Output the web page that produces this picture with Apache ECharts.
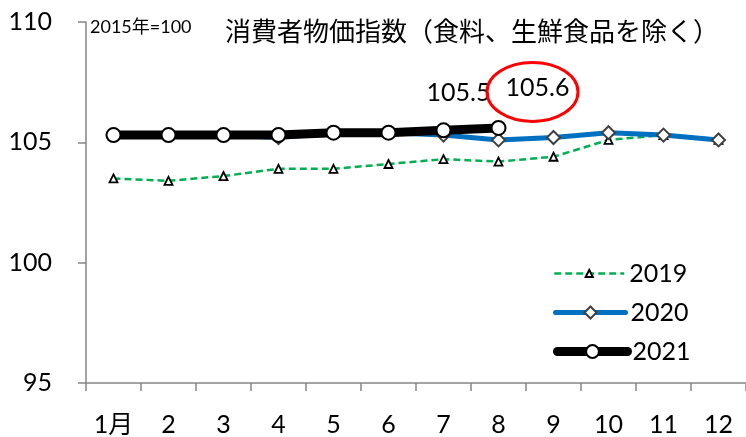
<!DOCTYPE html>
<html>
<head>
<meta charset="utf-8">
<script src="https://cdn.jsdelivr.net/npm/echarts@6/dist/echarts.min.js"></script>
<style>
html,body{margin:0;padding:0;background:#fff;}
#c{width:746px;height:437px;}
</style>
</head>
<body>
<div id="c"></div>
<script>
const categories = ['1月','2','3','4','5','6','7','8','9','10','11','12'];
const s2019 = [103.5,103.4,103.6,103.9,103.9,104.1,104.3,104.2,104.4,105.1,105.3,105.1];
const s2020 = [105.3,105.3,105.3,105.2,105.4,105.4,105.3,105.1,105.2,105.4,105.3,105.1];
const s2021 = [105.3,105.3,105.3,105.3,105.4,105.4,105.5,105.6];
const yTicks = [95,100,105,110];
const seriesNames = ['2019','2020','2021'];
const titleText = '消費者物価指数（食料、生鮮食品を除く）';
const baseText = '2015年=100';

const FONT = "Lato, 'Noto Sans CJK JP', sans-serif";
const chart = echarts.init(document.getElementById('c'), null, {renderer:'canvas'});

const lbl = (ox, oy) => ({show:true, formatter:'{c}', position:'top', offset:[ox, oy], fontSize:25, color:'#000', fontFamily:FONT});
const data2021 = s2021.map((v,i)=>{
  if(i===6) return {value:v, label:lbl(15,-12)};
  if(i===7) return {value:v, label:lbl(39,-14)};
  return v;
});

function legendFor(name, top, itemHeight, lineStyle){
  return {
    orient:'vertical', left:553, top:top, padding:0,
    itemWidth:70, itemHeight:itemHeight,
    textStyle:{fontFamily:FONT, fontSize:25, color:'#000', lineHeight:25, padding:[0,0,0,0]},
    lineStyle:lineStyle,
    data:[name]
  };
}

const option = {
  animation:false,
  backgroundColor:'#fff',
  grid:{left:86, top:22, width:667, height:363, containLabel:false},
  title:[
    {text:titleText, left:225, top:20, padding:0, textStyle:{fontFamily:FONT, fontSize:26, fontWeight:'normal', color:'#000'}},
    {text:baseText, left:90, top:18, padding:0, textStyle:{fontFamily:FONT, fontSize:18, fontWeight:'normal', color:'#000'}}
  ],
  legend:[
    legendFor(seriesNames[0], 261, 9, {width:2.5, type:[7,4], color:'#00B050'}),
    legendFor(seriesNames[1], 300, 15, {width:5, color:'#0070C0', cap:'round'}),
    legendFor(seriesNames[2], 339, 16, {width:9, color:'#000', cap:'round'})
  ],
  xAxis:{
    type:'category', data:categories, boundaryGap:true,
    axisLine:{lineStyle:{color:'#868686', width:1.5}},
    axisTick:{show:true, length:8, lineStyle:{color:'#868686', width:1.5}},
    axisLabel:{fontFamily:FONT, fontSize:25, color:'#000', margin:29, interval:0},
    splitLine:{show:false}
  },
  yAxis:{
    type:'value', min:yTicks[0], max:yTicks[yTicks.length-1], interval:5,
    axisLine:{show:true, lineStyle:{color:'#868686', width:1.5}},
    axisTick:{show:true, length:8, lineStyle:{color:'#868686', width:1.5}},
    axisLabel:{fontFamily:FONT, fontSize:25, color:'#000', margin:34},
    splitLine:{show:false}
  },
  series:[
    {name:seriesNames[0], type:'line', data:s2019, z:2,
     symbol:'triangle', symbolSize:8,
     lineStyle:{color:'#00B050', width:2.5, type:[7,4]},
     itemStyle:{color:'#fff', borderColor:'#000', borderWidth:1.8},
     emphasis:{disabled:true}},
    {name:seriesNames[1], type:'line', data:s2020, z:3,
     symbol:'diamond', symbolSize:13,
     lineStyle:{color:'#0070C0', width:5},
     itemStyle:{color:'#fff', borderColor:'#404040', borderWidth:2},
     emphasis:{disabled:true}},
    {name:seriesNames[2], type:'line', data:data2021, z:4,
     symbol:'circle', symbolSize:14,
     lineStyle:{color:'#000', width:9},
     itemStyle:{color:'#fff', borderColor:'#000', borderWidth:2},
     emphasis:{disabled:true}}
  ]
};
chart.setOption(option);

const p = chart.convertToPixel({xAxisIndex:0, yAxisIndex:0}, [7, s2021[7]]);
chart.setOption({
  graphic:[{
    type:'ellipse', z:10,
    shape:{cx:p[0]+34, cy:p[1]-36, rx:45.5, ry:29.5},
    style:{fill:'none', stroke:'#FF0000', lineWidth:3}
  }]
});
</script>
</body>
</html>
